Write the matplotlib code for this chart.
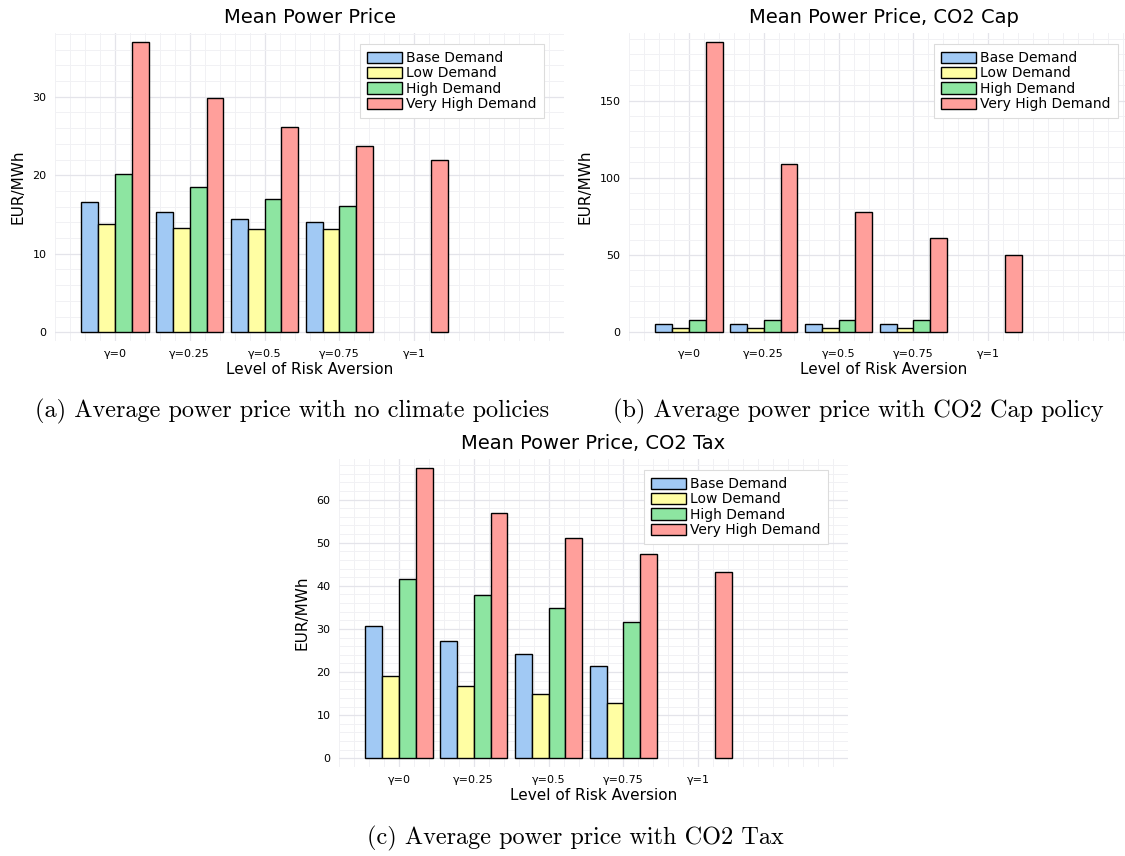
import numpy as np
import matplotlib
matplotlib.use("Agg")
import matplotlib.pyplot as plt
import matplotlib.ticker as ticker

W, H = 1125, 856

risk_labels = ["γ=0", "γ=0.25", "γ=0.5", "γ=0.75", "γ=1"]
scenarios = ["Base Demand", "Low Demand", "High Demand", "Very High Demand"]
colors = ["#a1c9f4", "#fffea3", "#8de5a1", "#ff9f9b"]

# mean power price (EUR/MWh), no climate policy
base_none = [16.6, 15.3, 14.4, 14.0, np.nan]
low_none = [13.8, 13.3, 13.2, 13.2, np.nan]
high_none = [20.1, 18.5, 17.0, 16.1, np.nan]
vhigh_none = [37.0, 29.8, 26.1, 23.7, 21.9]

# CO2 cap
base_cap = [5.2, 5.2, 5.2, 5.2, np.nan]
low_cap = [2.6, 2.6, 2.6, 2.6, np.nan]
high_cap = [8.2, 8.0, 8.0, 8.0, np.nan]
vhigh_cap = [188.1, 108.9, 77.7, 60.8, 50.2]

# CO2 tax
base_tax = [30.7, 27.1, 24.3, 21.4, np.nan]
low_tax = [19.2, 16.8, 15.0, 12.8, np.nan]
high_tax = [41.6, 37.8, 34.8, 31.6, np.nan]
vhigh_tax = [67.4, 56.8, 51.0, 47.3, 43.3]

panels = [
    ("Mean Power Price", [base_none, low_none, high_none, vhigh_none], 10,
     (55, 33), "(a) Average power price with no climate policies", (292, 411)),
    ("Mean Power Price, CO2 Cap", [base_cap, low_cap, high_cap, vhigh_cap], 50,
     (629, 33), "(b) Average power price with CO2 Cap policy", (858, 411)),
    ("Mean Power Price, CO2 Tax", [base_tax, low_tax, high_tax, vhigh_tax], 10,
     (339, 459), "(c) Average power price with CO2 Tax", (575, 838)),
]

AX_W, AX_H = 509, 308
BAR_W = 0.225

fig = plt.figure(figsize=(W / 100, H / 100), dpi=100)

for title, series, ystep, (left, top), caption, (cx, cy) in panels:
    ax = fig.add_axes([left / W, (H - top - AX_H) / H, AX_W / W, AX_H / H])
    centers = np.arange(len(risk_labels)) + 0.5

    for j, (vals, name, col) in enumerate(zip(series, scenarios, colors)):
        ax.bar(centers + (j - 1.5) * BAR_W, vals, width=BAR_W, color=col,
               edgecolor="black", linewidth=1.0, label=name, zorder=3)

    ymax = np.nanmax(np.array(series))
    ax.set_ylim(-0.03 * ymax, 1.03 * ymax)
    ax.set_xlim(-0.3, 6.5)

    ax.set_xticks(centers)
    ax.set_xticklabels(risk_labels)
    ax.xaxis.set_minor_locator(ticker.MultipleLocator(0.2, offset=0.1))
    ax.yaxis.set_major_locator(ticker.MultipleLocator(ystep))
    ax.yaxis.set_minor_locator(ticker.AutoMinorLocator(5))

    ax.grid(True, which="major", color="#e4e4ea", linewidth=0.9, zorder=0)
    ax.grid(True, which="minor", color="#f1f1f4", linewidth=0.7, zorder=0)
    ax.set_axisbelow(True)
    for sp in ax.spines.values():
        sp.set_visible(False)
    ax.tick_params(which="both", length=0, labelsize=8, pad=6)

    ax.set_title(title, fontsize=14, pad=7)
    ax.set_xlabel("Level of Risk Aversion", fontsize=11, labelpad=2)
    ax.set_ylabel("EUR/MWh", fontsize=11, labelpad=5)

    leg = ax.legend(loc="upper left", bbox_to_anchor=(0.6, 0.964), fontsize=10,
                    fancybox=False, framealpha=1.0, edgecolor="#dcdcdc",
                    handlelength=2.5, handleheight=0.85, handletextpad=0.3,
                    labelspacing=0.1, borderpad=0.5, borderaxespad=0)
    leg.get_frame().set_linewidth(0.8)

    fig.text(cx / W, 1 - cy / H, caption, family="cmr10", fontsize=17.5,
             ha="center", va="center")

fig.savefig("out.png", dpi=100)
